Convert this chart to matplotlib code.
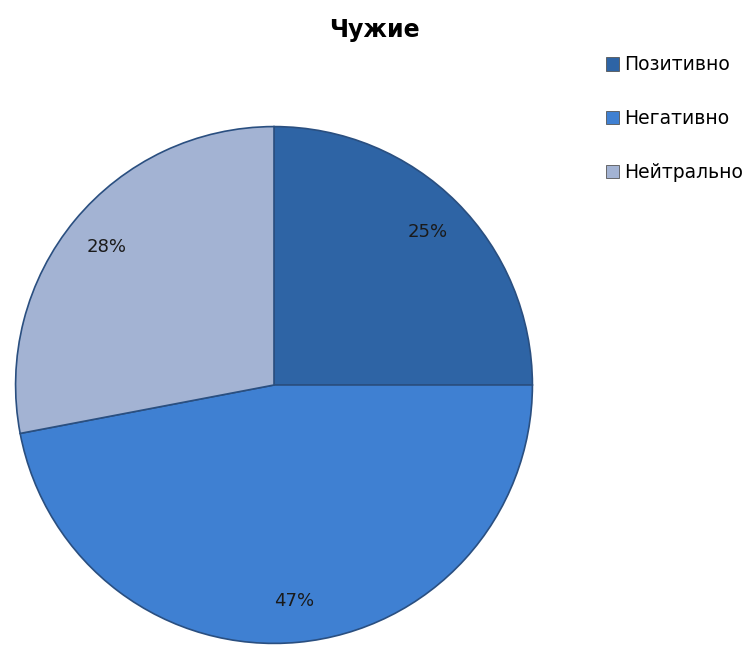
import matplotlib
matplotlib.use("Agg")
from matplotlib import pyplot as plt
from matplotlib.patches import Patch

categories = ["Позитивно", "Негативно", "Нейтрально"]
shares = [25, 47, 28]
colors = ["#2e64a5", "#3f80d2", "#a3b3d3"]
title = "Чужие"

fig = plt.figure(figsize=(7.55, 6.52), dpi=100)
# pie centre around (274, 385) px, radius about 261 px
ax = fig.add_axes([13 / 755, 6 / 652, 522 / 755, 522 / 652])

wedges, texts, autotexts = ax.pie(
    shares, colors=colors, startangle=90, counterclock=False,
    autopct="%d%%", pctdistance=0.84,
    wedgeprops=dict(edgecolor="#2a4f80", linewidth=1.2),
    textprops=dict(fontsize=13, color="#1a1a1a"),
)
ax.set_xlim(-1.01, 1.01)
ax.set_ylim(-1.01, 1.01)
ax.set_aspect("equal")

fig.text(374 / 755, 1 - 30 / 652, title, fontsize=17, fontweight="bold",
         ha="center", va="center")

handles = [Patch(facecolor=c, edgecolor="#555555", linewidth=0.6) for c in colors]
fig.legend(handles, categories, loc="upper left",
           bbox_to_anchor=(598 / 755, 1 - 48 / 652), frameon=False,
           fontsize=13.5, handlelength=0.7, handleheight=0.7,
           handletextpad=0.3, labelspacing=1.85, borderaxespad=0)

fig.savefig("out.png", dpi=100)
